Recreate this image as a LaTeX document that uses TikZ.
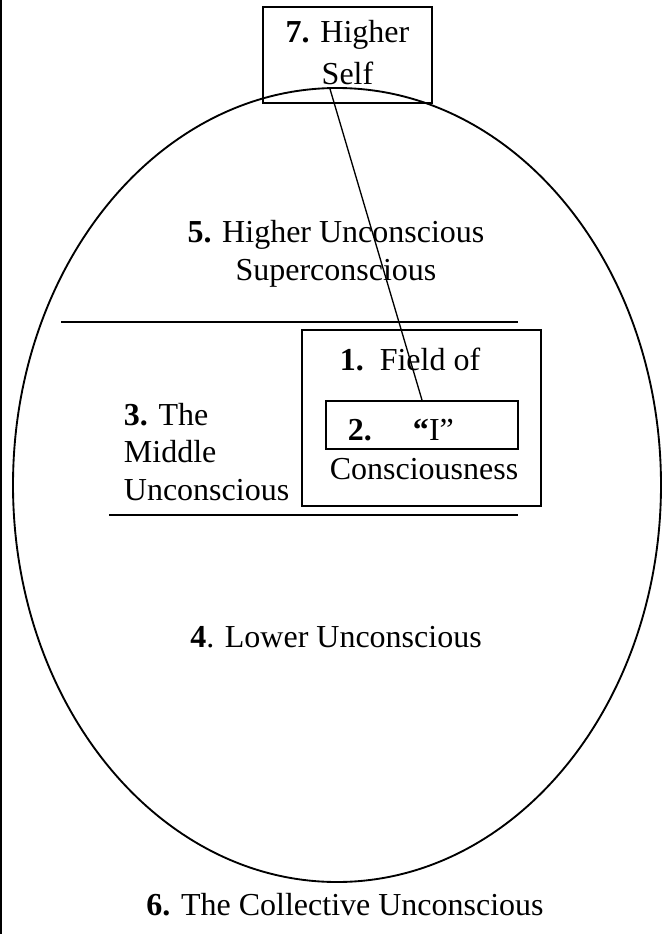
\documentclass[tikz,border=0pt]{standalone}
\usepackage{fontspec}
\setmainfont{Liberation Serif}
\usetikzlibrary{shapes.geometric}
\begin{document}
\begin{tikzpicture}[x=0.375pt,y=-0.375pt,line width=0.7pt,
  txt/.style={inner sep=0pt,font=\fontsize{12}{14}\selectfont},
  box/.style={draw,rectangle,inner sep=0pt}]
\useasboundingbox (0,0) rectangle (663,934);
% Randlinie links
\coordinate (edgetop) at (1,0);
\coordinate (edgebot) at (1,934);
\draw[line width=0.6pt] (edgetop) -- (edgebot);
% grosse Ellipse (Psyche)
\node[draw,ellipse,inner sep=0pt,minimum width=243pt,minimum height=297.75pt]
  (psyche) at (337,485) {};
% Kasten oben: hoeheres Selbst
\node[box,minimum width=63.4pt,minimum height=36pt] (self) at (347.5,55) {};
\node[txt,align=center,font=\fontsize{12}{15.75}\selectfont]
  (selflbl) at (347.5,53) {\textbf{7.} Higher\\Self};
% Trennlinien
\coordinate (upA) at (61,322);
\coordinate (upB) at (518,322);
\coordinate (lowA) at (109,515);
\coordinate (lowB) at (518,515);
\draw (upA) -- (upB);
\draw (lowA) -- (lowB);
% Bewusstseinsfeld und Ich
\node[box,minimum width=89.6pt,minimum height=66pt] (field) at (421.5,418) {};
\node[box,minimum width=72pt,minimum height=18pt] (ibox) at (422,425) {};
% Verbindung vom Selbst zum Ich
\coordinate (selftip) at (330,89);
\draw[line width=0.5pt] (selftip) -- (ibox.north);
% Beschriftungen
\node[txt,anchor=base] (fieldlbl) at (410,370) {\textbf{1.}\ \ Field of};
\node[txt,anchor=base west] (ilbl) at (347,440) {\textbf{2.}\hspace{15.4pt}\textbf{``}I''};
\node[txt,anchor=base] (conslbl) at (424,479) {Consciousness};
\node[txt,align=left,anchor=west,font=\fontsize{12}{13.9}\selectfont]
  (middle) at (123,452) {\textbf{3.} The\\Middle\\Unconscious};
\node[txt,anchor=base] (lower) at (336,647) {\textbf{4}. Lower Unconscious};
\node[txt,align=center,font=\fontsize{12}{14.25}\selectfont]
  (higher) at (336,254) {\textbf{5.} Higher Unconscious\\Superconscious};
\node[txt,anchor=base] (collective) at (345,915) {\textbf{6.} The Collective Unconscious};
\end{tikzpicture}
\end{document}
